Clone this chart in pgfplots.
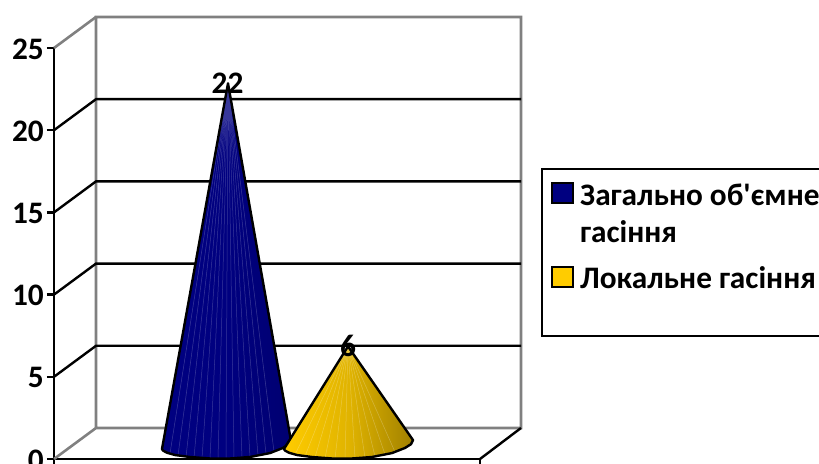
\documentclass[border=0pt]{standalone}
\usepackage{pgfplots}
\usepackage{fontspec}
\setmainfont{Carlito}[Ligatures=TeXOff]
\pgfplotsset{compat=1.18}
\definecolor{cnavy}{HTML}{000080}
\definecolor{cgold}{HTML}{FFCC00}
\newcommand{\lblfont}{\fontsize{31.4}{31.4}\selectfont\bfseries}
\pgfplotstableread{
x y
162 -0.24
163 -0.34
167 -0.47
175 -0.61
190 -0.73
210 -0.82
230 -0.82
250 -0.73
270 -0.49
283 -0.18
289 0.05
291 0.24
228 22
}\blueoutline
\pgfplotstableread{
x y
284 -0.24
285 -0.34
289 -0.47
297 -0.61
312 -0.73
332 -0.82
352 -0.82
372 -0.73
392 -0.49
405 -0.18
411 0.05
413 0.30
348 6
}\goldoutline
\begin{document}
\begin{tikzpicture}[x=1bp,y=1bp]
\useasboundingbox (-54bp,-5bp) rectangle (765bp,459bp);
\begin{axis}[
  /pgf/number format/assume math mode=true,
  scale only axis,
  width=426bp,height=411bp,
  xmin=54,xmax=480,ymin=0,ymax=25,
  axis x line*=bottom,
  axis y line*=left,
  axis line style={line width=2.4bp,black,-},
  x axis line style={-},
  xtick={54,480},xticklabels={},
  ytick={0,5,...,25},
  tick style={line width=2.4bp,black},
  tick align=outside,
  major tick length=7bp,
  yticklabel style={font=\lblfont,inner sep=0pt,xshift=-3bp,yshift=-1bp},
  clip=false,
  unbounded coords=jump,
]
% walls
\addplot[line width=2.6bp,color=gray] coordinates {(54,0)(96,1.886)(521,1.886)(521,26.886)(96,26.886)(96,1.886)};
\addplot[line width=2.6bp,color=gray] coordinates {(54,25)(96,26.886)};
\addplot[line width=2.4bp,black] coordinates {(480,0)(521,1.886)};
\addplot[line width=2.4bp,black] coordinates {(54,5)(96,6.886)(521,6.886)};
\addplot[line width=2.4bp,black] coordinates {(54,10)(96,11.886)(521,11.886)};
\addplot[line width=2.4bp,black] coordinates {(54,15)(96,16.886)(521,16.886)};
\addplot[line width=2.4bp,black] coordinates {(54,20)(96,21.886)(521,21.886)};
% blue cone
\addplot[yshift=14bp,draw=none,shade,shading angle=90,left color=cnavy,right color=cnavy!88!black,middle color=cnavy] table {\blueoutline} -- cycle;
\addplot[yshift=14bp,line width=0.5bp,color=white,opacity=0.22] table {
x y
228 22
170 -0.52
nan nan
228 22
178 -0.64
nan nan
228 22
186 -0.71
nan nan
228 22
194 -0.76
nan nan
228 22
202 -0.80
nan nan
228 22
210 -0.82
nan nan
228 22
218 -0.82
nan nan
228 22
226 -0.82
nan nan
228 22
234 -0.81
nan nan
228 22
242 -0.77
nan nan
228 22
250 -0.73
nan nan
228 22
258 -0.64
nan nan
228 22
266 -0.54
nan nan
228 22
274 -0.40
};
\addplot[yshift=14bp,line width=2.4bp,black,line join=round] table {\blueoutline} -- cycle;
% gold cone
\addplot[yshift=14bp,draw=none,shade,shading angle=90,left color=cgold,right color=black!30!cgold!90!black,middle color=cgold!88!black] table {\goldoutline} -- cycle;
\addplot[yshift=14bp,line width=0.5bp,color=white,opacity=0.25] table {
x y
348 6
295 -0.58
nan nan
348 6
305 -0.68
nan nan
348 6
315 -0.75
nan nan
348 6
325 -0.80
nan nan
348 6
335 -0.82
nan nan
348 6
345 -0.82
nan nan
348 6
355 -0.81
nan nan
348 6
365 -0.76
nan nan
348 6
375 -0.69
nan nan
348 6
385 -0.57
nan nan
348 6
395 -0.42
};
\addplot[yshift=14bp,line width=2.4bp,black,line join=round] table {\goldoutline} -- cycle;
% value labels
\node[font=\lblfont,inner sep=0pt] at (axis cs:227.5,22.85) {22};
\node[font=\lblfont,inner sep=0pt] at (axis cs:348,6.85) {6};
\end{axis}
% legend
\begin{scope}[shift={(-54bp,459bp)},y=-1bp,x=1bp]
\draw[line width=2.4bp,black] (822,169) -- (542,169) -- (542,336) -- (822,336);
\draw[line width=2.4bp,black,fill=cnavy] (552,183) rectangle (573,203);
\draw[line width=2.4bp,black,fill=cgold] (552,267) rectangle (573,287);
\node[anchor=base west,inner sep=0pt,font=\lblfont] at (580,206) {Загально об'ємне};
\node[anchor=base west,inner sep=0pt,font=\lblfont] at (580,243) {гасіння};
\node[anchor=base west,inner sep=0pt,font=\lblfont] at (580,289) {Локальне гасіння};
\end{scope}
\end{tikzpicture}
\end{document}
